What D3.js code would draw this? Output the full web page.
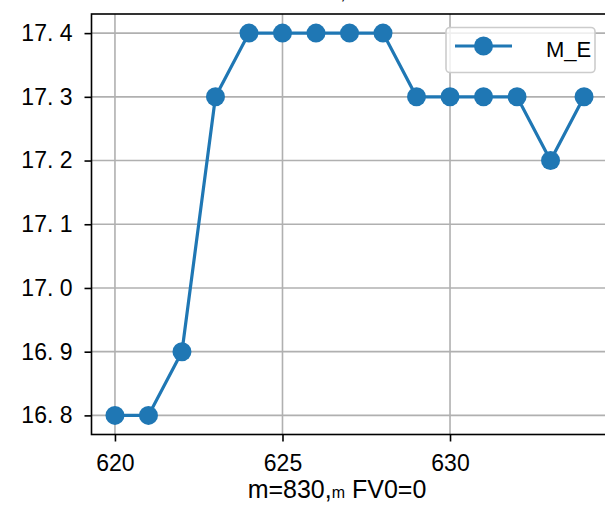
<!DOCTYPE html>
<html><head><meta charset="utf-8">
<script src="https://cdn.jsdelivr.net/npm/d3@7"></script>
<style>body{margin:0;background:#fff}svg{display:block}text{font-family:"Liberation Sans",Arial,sans-serif}</style>
</head><body>
<svg id="c" width="605" height="505"></svg>
<script>
const xValues = [620,621,622,623,624,625,626,627,628,629,630,631,632,633,634];
const yValues = [16.8,16.8,16.9,17.3,17.4,17.4,17.4,17.4,17.4,17.3,17.3,17.3,17.3,17.2,17.3];
const xTicks = [620,625,630];
const yTicks = [16.8,16.9,17.0,17.1,17.2,17.3,17.4];
const seriesName = "M_E";
const xLabelParts = ["m=830,", "m", " FV0=0"];

const svg = d3.select("#c");
const L = 91.5, R = 607.5, T = 14, B = 434.5;
const color = "#1f77b4";
const x = d3.scaleLinear().domain([619.3, 634.7]).range([L, R]);
const y = d3.scaleLinear().domain([16.77, 17.43]).range([B, T]);

// grid
svg.append("g").selectAll("line").data(xTicks).join("line")
  .attr("x1", d => x(d)).attr("x2", d => x(d)).attr("y1", T).attr("y2", B)
  .attr("stroke", "#b0b0b0").attr("stroke-width", 1.6);
svg.append("g").selectAll("line").data(yTicks).join("line")
  .attr("y1", d => y(d)).attr("y2", d => y(d)).attr("x1", L).attr("x2", R)
  .attr("stroke", "#b0b0b0").attr("stroke-width", 1.6);

// axes
const xAxis = d3.axisBottom(x).tickValues(xTicks).tickSize(7).tickPadding(13).tickFormat(d3.format("d"));
const yAxis = d3.axisLeft(y).tickValues(yTicks).tickSize(7).tickPadding(12).tickFormat(d => d.toFixed(1).replace(".", ". "));
const gx = svg.append("g").attr("transform", `translate(0,${B})`).call(xAxis);
const gy = svg.append("g").attr("transform", `translate(${L},0)`).call(yAxis);
[gx, gy].forEach(g => {
  g.select(".domain").remove();
  g.selectAll(".tick line").attr("stroke", "#000").attr("stroke-width", 1.6);
  g.selectAll(".tick text").attr("fill", "#000").attr("font-size", 23)
    .style("font-family", '"Liberation Sans",Arial,sans-serif').style("white-space", "pre");
});

// line + markers
const line = d3.line().x((d, i) => x(xValues[i])).y(d => y(d));
svg.append("path").datum(yValues).attr("d", line).attr("fill", "none")
  .attr("stroke", color).attr("stroke-width", 3.2);
svg.append("g").selectAll("circle").data(yValues).join("circle")
  .attr("cx", (d, i) => x(xValues[i])).attr("cy", d => y(d)).attr("r", 9.5).attr("fill", color);

// spines
svg.append("rect").attr("x", L).attr("y", T).attr("width", R - L).attr("height", B - T)
  .attr("fill", "none").attr("stroke", "#000").attr("stroke-width", 1.6);

// legend
const lg = svg.append("g");
lg.append("rect").attr("x", 446).attr("y", 27.5).attr("width", 149).attr("height", 45).attr("rx", 4)
  .attr("fill", "rgba(255,255,255,0.8)").attr("stroke", "#cccccc").attr("stroke-width", 1.6);
lg.append("line").attr("x1", 455).attr("x2", 512).attr("y1", 46).attr("y2", 46)
  .attr("stroke", color).attr("stroke-width", 3.2);
lg.append("circle").attr("cx", 483.5).attr("cy", 46).attr("r", 9.5).attr("fill", color);
lg.append("text").attr("x", 546).attr("y", 57).attr("font-size", 22).attr("fill", "#000")
  .style("font-family", '"Liberation Sans Narrow","Liberation Sans",sans-serif').text(seriesName);

// x label
const xl = svg.append("text").attr("x", 337).attr("y", 498).attr("text-anchor", "middle")
  .attr("font-size", 25).attr("fill", "#000");
xl.append("tspan").text(xLabelParts[0]);
xl.append("tspan").attr("font-size", 16).text(xLabelParts[1]);
xl.append("tspan").text(xLabelParts[2]);

// clipped title remnant (cut off at the top edge, as in the reference)
svg.append("text").attr("x", 343).attr("y", -1).attr("text-anchor", "middle").attr("font-size", 20).attr("fill", "#000").text(",");
</script>
</body></html>
